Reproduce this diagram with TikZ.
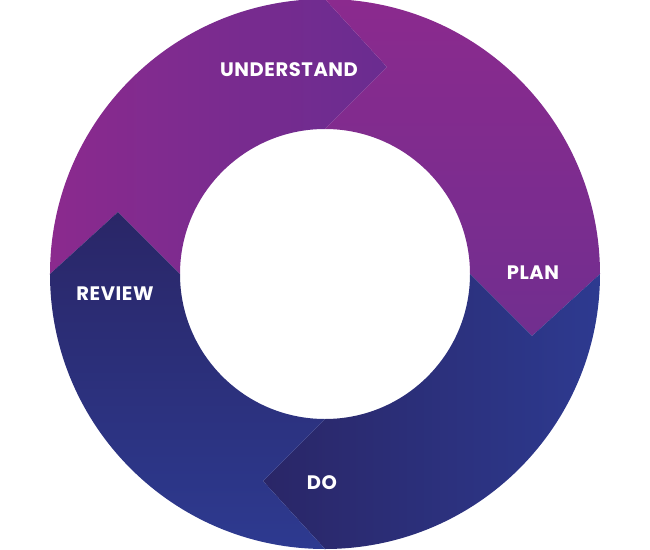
\documentclass[tikz,border=0pt]{standalone}
\usepackage{fontspec}
\newfontfamily\cyclefont{Poppins}[LetterSpace=3]
\definecolor{plumlight}{HTML}{8B2A8E}
\definecolor{plumdark}{HTML}{6A2C90}
\definecolor{plummid}{HTML}{712E8F}
\definecolor{navydark}{HTML}{2A2667}
\definecolor{navylight}{HTML}{2D3A90}

\begin{document}
\begin{tikzpicture}[x=1pt,y=1pt,
  steplabel/.style={text=white,font=\cyclefont\bfseries\fontsize{19.5}{19.5}\selectfont}]
\useasboundingbox (-325,-275) rectangle (325,274);
% ---------- chevron tips (radius 207, shifted clockwise) ----------
\coordinate (tipN) at (62,207);
\coordinate (tipE) at (207,-62);
\coordinate (tipS) at (-62,-207);
\coordinate (tipW) at (-207,62);
% ---------- understand ----------
\shade[left color=plumlight,right color=plumdark]
  (180:275) arc[start angle=180,end angle=90,radius=275] -- (tipN)
  -- (90:145) arc[start angle=90,end angle=180,radius=145] -- (tipW) -- cycle;
% ---------- plan ----------
\shade[top color=plumlight,bottom color=plummid]
  (90:275) arc[start angle=90,end angle=0,radius=275] -- (tipE)
  -- (0:145) arc[start angle=0,end angle=90,radius=145] -- (tipN) -- cycle;
% ---------- do ----------
\shade[right color=navylight,left color=navydark]
  (0:275) arc[start angle=0,end angle=-90,radius=275] -- (tipS)
  -- (-90:145) arc[start angle=-90,end angle=0,radius=145] -- (tipE) -- cycle;
% ---------- review ----------
\shade[bottom color=navylight,top color=navydark]
  (-90:275) arc[start angle=-90,end angle=-180,radius=275] -- (tipW)
  -- (180:145) arc[start angle=180,end angle=270,radius=145] -- (tipS) -- cycle;
% ---------- labels ----------
\node[steplabel] (understand) at (-36,204) {UNDERSTAND};
\node[steplabel] (plan) at (208,1) {PLAN};
\node[steplabel] (do) at (-3,-209) {DO};
\node[steplabel] (review) at (-210,-20) {REVIEW};
\end{tikzpicture}
\end{document}
